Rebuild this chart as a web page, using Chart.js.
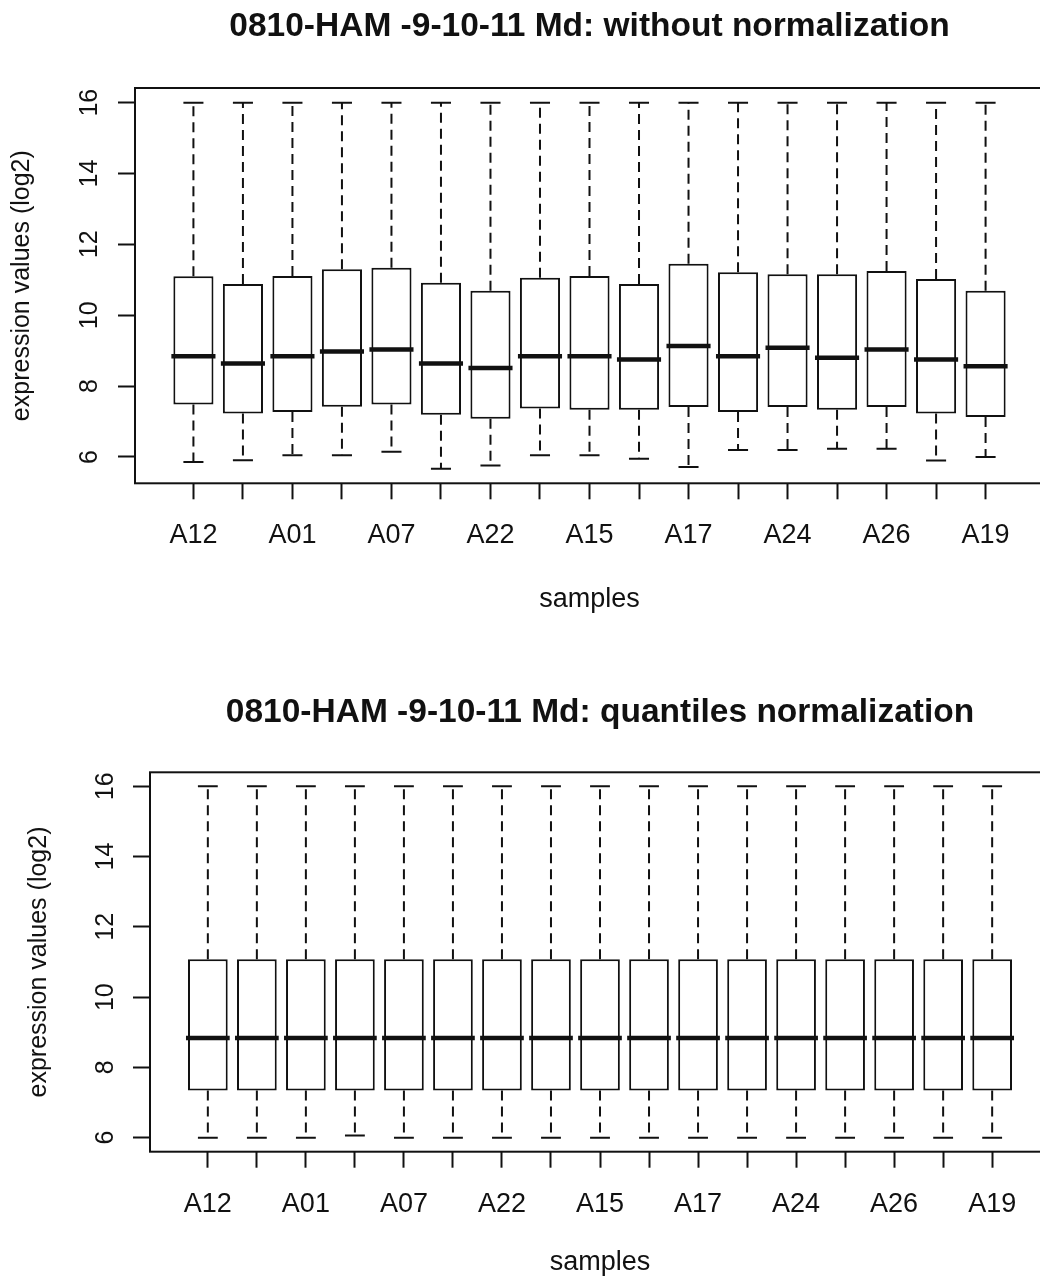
<!DOCTYPE html>
<html>
<head>
<meta charset="utf-8">
<script src="https://cdn.jsdelivr.net/npm/chart.js@4.4.1/dist/chart.umd.min.js"></script>
<style>
  html, body { margin: 0; padding: 0; background: #fff; overflow: hidden; }
  #top, #bottom { position: absolute; left: 0; }
  #top { top: 0; }
  #bottom { top: 640px; }
</style>
</head>
<body>
<canvas id="top" width="1060" height="640"></canvas>
<canvas id="bottom" width="1060" height="660"></canvas>
<script>
// sample names (only every other one is printed on the axis, the rest are unreadable)
const samples = ['A12', '', 'A01', '', 'A07', '', 'A22', '', 'A15', '', 'A17', '', 'A24', '', 'A26', '', 'A19']
const yTicks = [6, 8, 10, 12, 14, 16]

// without normalization
const rawMin    = [5.86, 5.91, 6.05, 6.05, 6.15, 5.67, 5.76, 6.05, 6.05, 5.95, 5.72, 6.20, 6.20, 6.23, 6.23, 5.90, 6.00]
const rawQ1     = [7.48, 7.23, 7.27, 7.42, 7.48, 7.19, 7.08, 7.37, 7.33, 7.33, 7.41, 7.27, 7.41, 7.33, 7.41, 7.23, 7.13]
const rawMedian = [8.84, 8.64, 8.84, 8.98, 9.03, 8.64, 8.51, 8.84, 8.84, 8.75, 9.13, 8.84, 9.08, 8.80, 9.03, 8.75, 8.56]
const rawQ3     = [11.10, 10.88, 11.11, 11.30, 11.34, 10.92, 10.69, 11.06, 11.11, 10.88, 11.45, 11.21, 11.16, 11.16, 11.25, 11.02, 10.69]
const rawMax    = [16, 16, 16, 16, 16, 16, 16, 16, 16, 16, 16, 16, 16, 16, 16, 16, 16]

// quantiles normalization
const qnMin    = [6.00, 6.00, 6.00, 6.06, 6.00, 6.00, 6.00, 6.00, 6.00, 6.00, 6.00, 6.00, 6.00, 6.00, 6.00, 6.00, 6.00]
const qnQ1     = [7.34, 7.34, 7.34, 7.34, 7.34, 7.34, 7.34, 7.34, 7.34, 7.34, 7.34, 7.34, 7.34, 7.34, 7.34, 7.34, 7.34]
const qnMedian = [8.84, 8.84, 8.84, 8.84, 8.84, 8.84, 8.84, 8.84, 8.84, 8.84, 8.84, 8.84, 8.84, 8.84, 8.84, 8.84, 8.84]
const qnQ3     = [11.08, 11.08, 11.08, 11.08, 11.08, 11.08, 11.08, 11.08, 11.08, 11.08, 11.08, 11.08, 11.08, 11.08, 11.08, 11.08, 11.08]
const qnMax    = [16, 16, 16, 16, 16, 16, 16, 16, 16, 16, 16, 16, 16, 16, 16, 16, 16]

const INK = '#111'
const FONT = "'Liberation Sans', Arial, sans-serif"

// whiskers, staples, medians and the plot frame
function boxExtras(lo, med, hi) {
    return {
        id: 'boxExtras',
        afterDatasetsDraw(chart) {
            const { ctx, chartArea, scales: { x, y } } = chart
            const bars = chart.getDatasetMeta(0).data
            ctx.save()
            ctx.strokeStyle = INK
            bars.forEach((bar, i) => {
                const cx = x.getPixelForValue(i + 1)
                const half = bar.width / 2
                const q1 = bar.base
                const q3 = bar.y
                const top = y.getPixelForValue(hi[i])
                const bot = y.getPixelForValue(lo[i])

                ctx.lineWidth = 2
                ctx.setLineDash([10, 6])
                ctx.beginPath()
                ctx.moveTo(cx, Math.min(q1, q3)); ctx.lineTo(cx, top)
                ctx.moveTo(cx, Math.max(q1, q3)); ctx.lineTo(cx, bot)
                ctx.stroke()

                ctx.setLineDash([])
                ctx.beginPath()
                ctx.moveTo(cx - half / 2, top); ctx.lineTo(cx + half / 2, top)
                ctx.moveTo(cx - half / 2, bot); ctx.lineTo(cx + half / 2, bot)
                ctx.stroke()

                const my = y.getPixelForValue(med[i])
                ctx.lineWidth = 4.5
                ctx.beginPath()
                ctx.moveTo(cx - half - 2, my); ctx.lineTo(cx + half + 2, my)
                ctx.stroke()
            })
            ctx.lineWidth = 2
            ctx.strokeRect(chartArea.left, chartArea.top, chartArea.right - chartArea.left, chartArea.bottom - chartArea.top)
            ctx.restore()
        }
    }
}

function makeBoxplot(canvas, cfg) {
    const all = cfg.lo.concat(cfg.hi)
    const lo = Math.min(...all)
    const hi = Math.max(...all)
    const pad = (hi - lo) * 0.04
    const n = cfg.q1.length
    const boxes = cfg.q1.map((v, i) => ({ x: i + 1, y: [v, cfg.q3[i]] }))

    return new Chart(canvas, {
        type: 'bar',
        data: {
            datasets: [{
                data: boxes,
                backgroundColor: '#fff',
                borderColor: INK,
                borderWidth: 2,
                borderSkipped: false,
                barPercentage: 0.81,
                categoryPercentage: 1.0,
            }]
        },
        options: {
            responsive: false,
            animation: false,
            layout: { padding: { left: 0, right: cfg.padRight, top: 0, bottom: 0 } },
            plugins: {
                legend: { display: false },
                tooltip: { enabled: false },
                title: {
                    display: true,
                    fullSize: false,
                    text: cfg.title,
                    color: INK,
                    font: { family: FONT, size: 33.5, weight: 'bold' },
                    padding: cfg.titlePad,
                },
            },
            scales: {
                x: {
                    type: 'linear',
                    offset: false,
                    min: 0.5 - 0.04 * n,
                    max: n + 0.5 + 0.04 * n,
                    afterBuildTicks: s => { s.ticks = samples.map((_, i) => ({ value: i + 1 })) },
                    afterFit: s => { s.height = cfg.xHeight; s.paddingLeft = 0; s.paddingRight = 0 },
                    border: { display: false },
                    grid: { offset: false, drawOnChartArea: false, tickLength: 16, tickColor: INK, tickWidth: 2 },
                    ticks: {
                        autoSkip: false,
                        maxRotation: 0,
                        padding: cfg.xTickPad,
                        color: INK,
                        font: { family: FONT, size: 27 },
                        callback: v => samples[v - 1] ?? '',
                    },
                    title: {
                        display: true,
                        text: 'samples',
                        color: INK,
                        font: { family: FONT, size: 27 },
                        padding: { top: 0, bottom: cfg.xTitlePad },
                    },
                },
                y: {
                    min: lo - pad,
                    max: hi + pad,
                    afterBuildTicks: s => { s.ticks = yTicks.map(v => ({ value: v })) },
                    afterFit: s => { s.width = cfg.yWidth; s.paddingTop = 0; s.paddingBottom = 0 },
                    border: { display: false },
                    grid: { drawOnChartArea: false, tickLength: 17, tickColor: INK, tickWidth: 2 },
                    ticks: {
                        minRotation: 90,
                        maxRotation: 90,
                        crossAlign: 'center',
                        padding: cfg.yTickPad,
                        color: INK,
                        font: { family: FONT, size: 25 },
                    },
                    title: {
                        display: true,
                        text: 'expression values (log2)',
                        color: INK,
                        font: { family: FONT, size: 25 },
                        padding: { top: cfg.yTitlePad, bottom: 0 },
                    },
                },
            },
        },
        plugins: [boxExtras(cfg.lo, cfg.median, cfg.hi)],
    })
}

makeBoxplot(document.getElementById('top'), {
    title: '0810-HAM -9-10-11 Md: without normalization',
    lo: rawMin, q1: rawQ1, median: rawMedian, q3: rawQ3, hi: rawMax,
    padRight: 16,
    titlePad: { top: 7, bottom: 40.8 },
    xHeight: 156.7, xTickPad: 20.5, xTitlePad: 23.8,
    yWidth: 135, yTickPad: 14, yTitlePad: 7,
})

makeBoxplot(document.getElementById('bottom'), {
    title: '0810-HAM -9-10-11 Md: quantiles normalization',
    lo: qnMin, q1: qnQ1, median: qnMedian, q3: qnQ3, hi: qnMax,
    padRight: 10,
    titlePad: { top: 52.5, bottom: 39.6 },
    xHeight: 148.3, xTickPad: 21, xTitlePad: 20.8,
    yWidth: 150, yTickPad: 13, yTitlePad: 24,
})
</script>
</body>
</html>
